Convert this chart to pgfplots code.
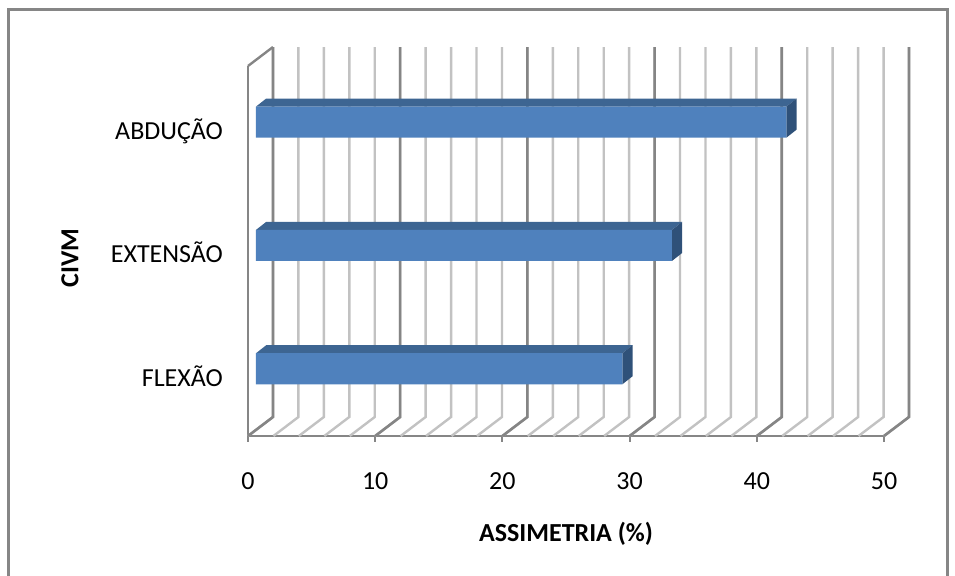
\documentclass[border=0pt]{standalone}
\usepackage{pgfplots}
\pgfplotsset{compat=1.18}
\usepackage{fontspec}
\setmainfont{Carlito}

\definecolor{framegray}{HTML}{868686}
\definecolor{majorgray}{HTML}{858585}
\definecolor{minorgray}{HTML}{C2C2C2}
\definecolor{barfront}{HTML}{4F81BD}
\definecolor{bartop}{HTML}{3D6592}
\definecolor{barside}{HTML}{2F5179}

% asymmetry per maximal voluntary isometric contraction
\pgfplotstableread{
pos   val
0.045 28.8
1.045 32.7
2.045 41.7
}\civm

\begin{document}
\begin{tikzpicture}
\useasboundingbox (-124pt,-70pt) rectangle (353.5pt,218pt);
% chart frame (open at the bottom edge of the page)
\draw[framegray, line width=1.5pt] (-119.5pt,-70pt) -- (-119.5pt,213pt) -- (349.5pt,213pt) -- (349.5pt,-70pt);
\begin{axis}[
  x=6.36pt, y=61.665pt,
  xmin=0, xmax=50, ymin=-0.5, ymax=2.5,
  clip=false,
  axis x line*=bottom, axis y line*=left,
  every outer x axis line/.style={-},
  every outer y axis line/.style={-},
  axis line style={draw=framegray, line width=1pt, -},
  xtick={0,10,...,50}, ytick={0,1,2},
  yticklabels={FLEXÃO,EXTENSÃO,ABDUÇÃO},
  xtick align=outside, major tick length=3pt,
  x tick style={draw=framegray, line width=1pt},
  y tick style={draw=none},
  /pgf/number format/assume math mode=true,
  ticklabel style={font=\fontsize{13}{15}\selectfont, text=black},
  xticklabel style={anchor=base, yshift=-24pt},
  yticklabel style={anchor=base east, xshift=-9pt, yshift=-6pt},
  label style={font=\bfseries\fontsize{13}{15}\selectfont},
  xlabel={ASSIMETRIA (\%)},
  ylabel={CIVM},
  xlabel style={at={(axis description cs:0.5,-0.265)}, anchor=center},
  ylabel style={at={(axis description cs:-0.280,0.481)}, anchor=center},
]
% back wall and floor grid: every 2 units, darker every 10
\pgfplotsinvokeforeach{0,2,...,50}{
  \draw[minorgray, line width=1.2pt]
    (axis cs:#1,-0.5) -- (axis cs:#1+1.965,-0.346) -- (axis cs:#1+1.965,2.654);
}
\pgfplotsinvokeforeach{0,10,...,50}{
  \draw[majorgray, line width=1.3pt]
    (axis cs:#1,-0.5) -- (axis cs:#1+1.965,-0.346) -- (axis cs:#1+1.965,2.654);
}
% left wall top edge
\draw[majorgray, line width=1.2pt] (axis cs:0,2.5) -- (axis cs:1.965,2.654);

% bar tops
\addplot[fill=bartop, draw=none] coordinates {(0.63,0.171) (28.8+0.63,0.171) (28.8+1.43,0.236) (1.43,0.236)} -- cycle;
\addplot[fill=bartop, draw=none] coordinates {(0.63,1.171) (32.7+0.63,1.171) (32.7+1.43,1.236) (1.43,1.236)} -- cycle;
\addplot[fill=bartop, draw=none] coordinates {(0.63,2.171) (41.7+0.63,2.171) (41.7+1.43,2.236) (1.43,2.236)} -- cycle;
% bar ends
\addplot[fill=barside, draw=none] coordinates {(28.8+0.63,-0.081) (28.8+0.63,0.171) (28.8+1.43,0.236) (28.8+1.43,-0.016)} -- cycle;
\addplot[fill=barside, draw=none] coordinates {(32.7+0.63,0.919) (32.7+0.63,1.171) (32.7+1.43,1.236) (32.7+1.43,0.984)} -- cycle;
\addplot[fill=barside, draw=none] coordinates {(41.7+0.63,1.919) (41.7+0.63,2.171) (41.7+1.43,2.236) (41.7+1.43,1.984)} -- cycle;
% bar fronts
\addplot[xbar, bar width=0.252, fill=barfront, draw=none, xshift=4pt] table[x=val, y=pos] {\civm};
\end{axis}
\end{tikzpicture}
\end{document}
